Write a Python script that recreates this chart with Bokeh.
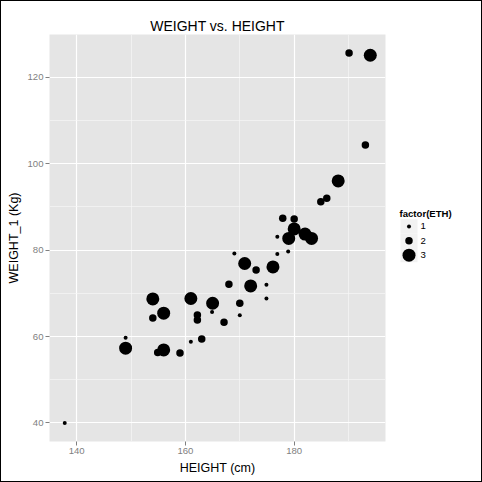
from bokeh.plotting import figure
from bokeh.layouts import row
from bokeh.models import Range1d, FixedTicker, ColumnDataSource
from bokeh.core.properties import value
from bokeh.embed import file_html
from bokeh.resources import INLINE

# ---- data ----
height = [137.8, 149.0, 149.0, 154.0, 154.0, 156.0, 156.0, 154.9, 159.0, 161.0,
          161.0, 162.2, 162.2, 163.0, 165.0, 164.9, 167.1, 168.0, 169.0, 170.0,
          170.0, 170.9, 172.0, 173.0, 174.9, 174.9, 176.1, 176.9, 176.9, 177.9,
          179.0, 178.9, 180.0, 180.0, 182.0, 183.2, 184.9, 186.0, 188.1, 190.1,
          194.0, 193.1]
weight = [40.0, 59.7, 57.3, 68.7, 64.3, 65.4, 56.9, 56.3, 56.2, 58.8,
          68.8, 65.0, 63.8, 59.4, 67.7, 65.7, 63.3, 72.1, 79.2, 67.7,
          64.9, 76.9, 71.7, 75.4, 72.0, 68.8, 76.1, 79.1, 83.1, 87.4,
          82.7, 79.7, 87.2, 84.9, 83.7, 82.7, 91.2, 92.0, 96.0, 125.6,
          125.1, 104.3]
eth = [1, 1, 3, 3, 2, 3, 3, 2, 2, 1,
       3, 2, 2, 2, 3, 1, 2, 2, 1, 2,
       1, 3, 3, 2, 1, 1, 3, 1, 1, 2,
       3, 1, 2, 3, 3, 3, 2, 2, 3, 2,
       3, 2]
eth_levels = [1, 2, 3]
x_ticks = [140, 160, 180]
x_minor = [150, 170, 190]
y_ticks = [40, 60, 80, 100, 120]
y_minor = [50, 70, 90, 110]

# ---- styles ----
FONT = "Liberation Sans"
size_map = {1: 4, 2: 7.5, 3: 13}
GREY_TXT = "#7f7f7f"

src = ColumnDataSource(dict(x=height, y=weight, sz=[size_map[e] for e in eth]))

p = figure(width=393, height=482, output_backend="svg", toolbar_location=None,
           x_range=Range1d(135.0, 196.8), y_range=Range1d(35.7, 129.9),
           title="WEIGHT vs. HEIGHT",
           min_border_left=49, min_border_right=8, min_border_top=34, min_border_bottom=41)
p.background_fill_color = "#e5e5e5"
p.border_fill_color = None
p.outline_line_color = None

p.title.text_font = FONT
p.title.text_font_size = "14px"
p.title.text_font_style = "normal"
p.title.align = "center"
p.title.text_color = "black"
p.title.standoff = 1

p.xaxis.ticker = FixedTicker(ticks=x_ticks, minor_ticks=x_minor)
p.yaxis.ticker = FixedTicker(ticks=y_ticks, minor_ticks=y_minor)
p.xaxis.axis_label = "HEIGHT (cm)"
p.yaxis.axis_label = "WEIGHT_1 (Kg)"
for ax in (p.xaxis, p.yaxis):
    ax.axis_line_color = None
    ax.major_tick_line_color = GREY_TXT
    ax.major_tick_out = 4
    ax.major_tick_in = 0
    ax.minor_tick_line_color = None
    ax.major_label_text_color = GREY_TXT
    ax.major_label_text_font = FONT
    ax.major_label_text_font_size = "9.6px"
    ax.major_label_standoff = 2
    ax.axis_label_text_font = FONT
    ax.axis_label_text_font_size = "12.5px"
    ax.axis_label_text_font_style = "normal"
    ax.axis_label_text_color = "black"
p.xaxis.axis_label_standoff = 4
p.yaxis.axis_label_standoff = 3

for g in (p.xgrid, p.ygrid):
    g.grid_line_color = "white"
    g.grid_line_width = 1.2
    g.minor_grid_line_color = "#f7f7f7"
    g.minor_grid_line_width = 0.7

p.scatter("x", "y", source=src, size="sz", fill_color="black", line_color=None)

# ---- legend panel (separate small figure, pixel-like coordinates) ----
LW, LH = 89, 482
leg = figure(width=LW, height=LH, output_backend="svg", toolbar_location=None,
             x_range=Range1d(0, LW), y_range=Range1d(LH, 0),
             x_axis_type=None, y_axis_type=None, min_border=0)
leg.outline_line_color = None
leg.background_fill_color = None
leg.border_fill_color = None

key = 17
title_y = 211.5
first_y = 227.3
key_x = 15.5
centers = [first_y + i * key for i in range(len(eth_levels))]
leg.text(x=[6], y=[title_y], text=["factor(ETH)"], text_font=value(FONT),
         text_font_size="9.6px", text_font_style="bold", text_baseline="middle",
         text_color="black")
leg.rect(x=[key_x] * len(eth_levels), y=centers, width=key, height=key,
         fill_color="#f2f2f2", line_color=None)
leg.scatter(x=[key_x] * len(eth_levels), y=centers,
            size=[size_map[e] for e in eth_levels], fill_color="black", line_color=None)
leg.text(x=[key_x + 11.5] * len(eth_levels), y=centers, text=[str(e) for e in eth_levels],
         text_font=value(FONT), text_font_size="9.6px", text_baseline="middle",
         text_color="black")

layout = row(p, leg, styles={"outline": "1px solid black", "outline-offset": "-1px",
                             "background-color": "white"})
open("out.html", "w").write(file_html(layout, INLINE))
